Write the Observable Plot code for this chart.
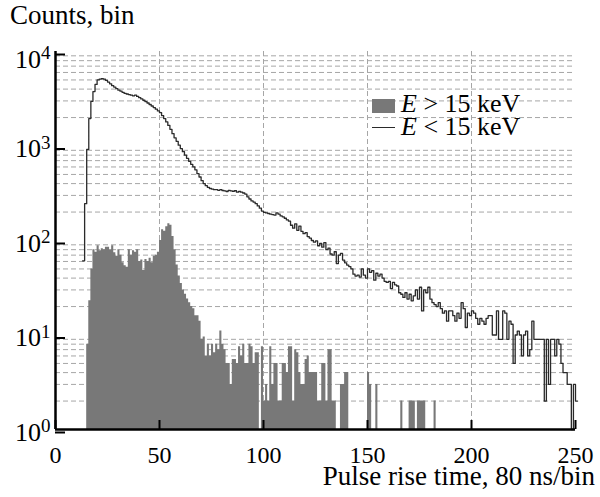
<!DOCTYPE html>
<html><head><meta charset="utf-8">
<script src="https://cdn.jsdelivr.net/npm/d3@7"></script>
<script src="https://cdn.jsdelivr.net/npm/@observablehq/plot@0.6"></script>
<style>
body{margin:0;background:#fff;}
#wrap{position:relative;width:600px;height:497px;font-family:"Liberation Serif","Times New Roman",serif;color:#000;}
.lbl{position:absolute;white-space:nowrap;line-height:1;font-size:26px;}
.ttl{font-size:27px;}
.tight{line-height:0.65;}
</style></head><body>
<div id="wrap"></div>
<script>
// Axis ticks and grid
const xTicks = [0, 50, 100, 150, 200, 250];
const xGrid = [50, 100, 150, 200];
const yTicks = [1, 10, 100, 1000, 10000];
const yGridMantissa = [2, 3, 4, 5, 6, 7, 8, 9];

// E > 15 keV: counts per bin, first bin at highStart (bins of 80 ns); 1 = empty bin on log axis
const highStart = 15;
const highCounts = [
  8, 23, 50, 80, 75, 88, 78, 82, 80, 85,            // 15-24
  85, 80, 88, 74, 68, 80, 70, 58, 54, 52,           // 25-34
  80, 70, 78, 75, 80, 60, 62, 48, 63, 60,           // 35-44
  65, 58, 68, 70, 75, 100, 130, 125, 140, 150,      // 45-54
  145, 110, 80, 55, 42, 35, 30, 27, 24, 22,         // 55-64
  20, 19, 16, 16, 14, 9, 9.5, 6, 8, 6,              // 65-74
  8, 6.5, 8, 7, 11, 8, 7, 5, 5, 3,                  // 75-84
  5.5, 5.5, 5, 7.5, 6, 8, 5, 5, 8, 7.5,             // 85-94
  5, 6.5, 6.5, 1, 7.5, 2, 3, 2, 7.5, 3,             // 95-104
  5, 5, 2, 2, 5, 5, 4, 7.5, 7.5, 2,                 // 105-114
  7, 6.5, 4, 3, 3, 5.5, 6, 4, 4, 4,                 // 115-124
  4, 2, 2, 5, 5, 2, 7, 7, 2, 2,                     // 125-134
  1, 1, 3, 3, 4, 4, 1, 1, 1, 1,                     // 135-144
  1, 1, 1, 1, 1, 4, 3, 1, 1, 3,                     // 145-154
  1, 1, 1, 1, 1, 1, 1, 1, 1, 1,                     // 155-164
  1, 2, 1, 1, 1, 2, 2, 2, 1, 2,                     // 165-174
  2, 2, 2, 1, 1, 1, 1, 2, 1                         // 175-183
];

// E < 15 keV: counts per bin, first bin at lowStart
const lowStart = 13;
const lowCounts = [
  61, 245, 920, 1950, 2970, 3770, 4480, 5000,       // 13-20
  5100, 5150, 5100, 4950, 4750, 4550, 4350, 4200, 4050, 3900,   // 21-30
  3800, 3700, 3600, 3550, 3500, 3450, 3400, 3450, 3350, 3250,   // 31-40
  3150, 3050, 2950, 2850, 2750, 2650, 2550, 2450, 2350, 2250,   // 41-50
  2100, 1950, 1800, 1650, 1500, 1350, 1220, 1120, 1020, 940,    // 51-60
  870, 800, 740, 690, 640, 600, 560, 510, 470, 430,             // 61-70
  400, 380, 365, 355, 350, 345, 345, 340, 345, 338,             // 71-80
  335, 330, 340, 335, 332, 336, 325, 330, 325, 318,             // 81-90
  310, 290, 275, 262, 255, 245, 232, 220, 205, 198,             // 91-100
  196, 193, 190, 188, 186, 196, 190, 182, 178, 172,             // 101-110
  165, 160, 145, 135, 150, 128, 142, 125, 118, 121,             // 111-120
  110, 106, 100, 96, 99, 88, 93, 85, 95, 80,                    // 121-130
  83, 72, 70, 76, 57, 70, 73, 62, 58, 55,                       // 131-140
  53, 50, 44, 42, 43, 41, 50, 43, 40, 50,                       // 141-150
  46, 48, 38, 45, 42, 44, 40, 37, 36, 37,                       // 151-160
  31, 36, 34, 33, 28, 27, 25, 28, 24, 27,                       // 161-170
  23, 26, 30, 24, 32, 18, 30, 28, 32, 24,                       // 171-180
  22, 21, 20, 22, 19, 17, 18, 14, 18, 18,                       // 181-190
  16, 14, 17, 15, 22, 19, 12, 17, 16, 18,                       // 191-200
  17, 15, 13, 15, 14, 13, 15, 16, 16, 10,                       // 201-210
  10, 18, 9, 9, 18, 17, 9, 14, 13, 5,                           // 211-220
  10, 11, 10, 6, 10, 11, 6, 7, 14, 9,                           // 221-230
  9, 9, 9, 9, 2, 9, 3, 9, 9, 6,                                 // 231-240
  9, 8, 5, 4, 4, 3, 3, 1, 3, 2                                  // 241-250
];

const legendLabels = ["> 15 keV", "< 15 keV"];
const legendSymbol = "E";
const xTitle = "Pulse rise time, 80 ns/bin";
const yTitle = "Counts, bin";

// Build tables (step outlines: one point per bin start, plus closing edge)
const highData = highCounts.map((c, i) => ({x: highStart + i, c}));
const lowData = lowCounts.map((c, i) => ({x: lowStart + i, c}));
lowData.push({x: lowStart + lowCounts.length, c: lowCounts[lowCounts.length - 1]});
const yGrid = yTicks.slice(0, 4).flatMap(d => yGridMantissa.map(m => m * d));

const plot = Plot.plot({
  width: 600, height: 497,
  marginLeft: 55, marginRight: 25, marginTop: 51, marginBottom: 68,
  style: {fontFamily: "'Liberation Serif','Times New Roman',serif", fontSize: "24px", background: "white", color: "black", overflow: "visible"},
  x: {domain: [0, 250], label: null},
  y: {type: "log", domain: [1, 10000], label: null},
  marks: [
    Plot.ruleY(yGrid, {stroke: "#a6a6a6", strokeWidth: 1, strokeDasharray: "5,3"}),
    Plot.ruleX(xGrid, {stroke: "#a6a6a6", strokeWidth: 1, strokeDasharray: "5,3"}),
    Plot.areaY(highData, {x: "x", y1: d => 1, y2: "c", curve: "step-after", fill: "#787878"}),
    Plot.line(lowData, {x: "x", y: "c", curve: "step-after", stroke: "#2a2a2a", strokeWidth: 1.3}),
    Plot.ruleX([0], {stroke: "black", strokeWidth: 2.5}),
    Plot.ruleY([1], {stroke: "black", strokeWidth: 2.5}),
    Plot.axisX({ticks: xTicks, tickSize: -9, tickPadding: 25, strokeWidth: 2, tickFormat: d => String(d), label: null}),
    Plot.axisY({ticks: yTicks, tickSize: -10, tickPadding: 15, strokeWidth: 2, fontSize: 26, dy: 3,
      tickFormat: d => "10^" + Math.round(Math.log10(d)), label: null})
  ]
});

// Superscript exponents on y tick labels
plot.querySelectorAll('g[aria-label="y-axis tick label"] text').forEach(t => {
  const s = t.textContent;
  if (!s.includes("^")) return;
  const [base, exp] = s.split("^");
  t.textContent = base;
  const ts = document.createElementNS("http://www.w3.org/2000/svg", "tspan");
  ts.setAttribute("dy", "-8.5");
  ts.setAttribute("font-size", "19");
  ts.textContent = exp;
  t.appendChild(ts);
  // top label sits a little below its tick, as in the original
  if (exp === "4") t.setAttribute("transform", (t.getAttribute("transform") || "") + " translate(0,5)");
});

const wrap = document.getElementById("wrap");
wrap.appendChild(plot);

function addLabel(html, css, cls) {
  const d = document.createElement("div");
  d.className = "lbl" + (cls ? " " + cls : "");
  d.innerHTML = html;
  Object.assign(d.style, css);
  wrap.appendChild(d);
  return d;
}
addLabel(yTitle, {left: "10px", top: "2px"}, "ttl");
addLabel(xTitle, {right: "5px", top: "467.6px"}, "ttl tight");

// Legend
const sw = document.createElement("div");
Object.assign(sw.style, {position: "absolute", left: "372px", top: "99px", width: "23px", height: "14px", background: "#787878"});
wrap.appendChild(sw);
const ln = document.createElement("div");
Object.assign(ln.style, {position: "absolute", left: "372px", top: "127px", width: "23px", height: "0", borderTop: "1.3px solid #2a2a2a"});
wrap.appendChild(ln);
addLabel(`<i>${legendSymbol}</i> ${legendLabels[0]}`, {left: "401px", top: "91px"});
addLabel(`<i>${legendSymbol}</i> ${legendLabels[1]}`, {left: "401px", top: "114px"});
</script>
</body></html>
